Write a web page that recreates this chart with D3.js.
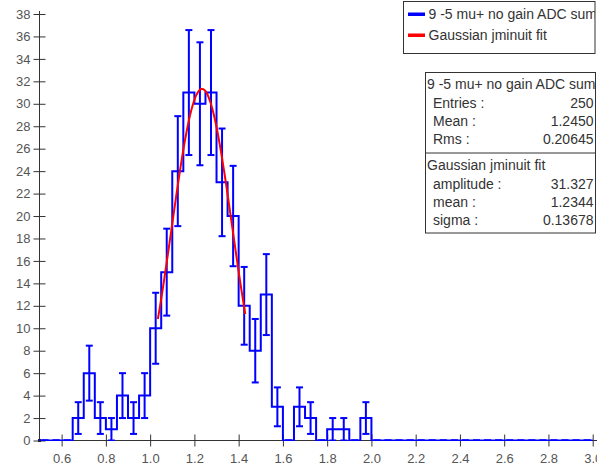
<!DOCTYPE html>
<html lang="en">
<head>
<meta charset="UTF-8">
<script src="https://d3js.org/d3.v7.min.js"></script>
<title>ADC sum histogram</title>
<style>
  body { margin: 0; background: #fff; }
  svg text { font-family: "Liberation Sans", Arial, sans-serif; }
  .axis .tick text { fill: #555; font-size: 13px; }
  .axis path, .axis line { stroke: #333; }
  .box text { font-size: 14px; fill: #333; }
</style>
</head>
<body>
<svg id="chart" width="597" height="465"></svg>
<script>
// histogram, 50 bins of 0.05 starting at 0.5
var binStart = 0.5;
var binWidth = 0.05;
var counts = [0, 0, 0, 2, 6, 2, 1, 4, 2, 4,
              10, 15, 24, 31, 30, 31, 23, 20, 12, 8,
              13, 3, 0, 3, 2, 0, 1, 1, 0, 2,
              0, 0, 0, 0, 0, 0, 0, 0, 0, 0,
              0, 0, 0, 0, 0, 0, 0, 0, 0, 0];

var xTicks = [0.6, 0.8, 1.0, 1.2, 1.4, 1.6, 1.8, 2.0, 2.2, 2.4, 2.6, 2.8, 3.0];
var yTicks = [0, 2, 4, 6, 8, 10, 12, 14, 16, 18, 20, 22, 24, 26, 28, 30, 32, 34, 36, 38];

// gaussian fit (values from the stats box)
var fitAmplitude = 31.327;
var fitMean = 1.2344;
var fitSigma = 0.13678;
var fitRange = [1.035, 1.43];

var histName = "9 -5 mu+ no gain ADC sum";
var fitName = "Gaussian jminuit fit";
var histStats = [["Entries :", "250"], ["Mean :", "1.2450"], ["Rms :", "0.20645"]];
var fitStats = [["amplitude :", "31.327"], ["mean :", "1.2344"], ["sigma :", "0.13678"]];

var blue = "#0000ff", red = "#ff0000";

var svg = d3.select("#chart");

var x = d3.scaleLinear().domain([0.5, 3.0]).range([39.5, 592.7]);
var y = d3.scaleLinear().domain([0, 38]).range([440.5, 14]);

// axes
var xAxis = svg.append("g")
    .attr("class", "axis")
    .attr("transform", "translate(0," + y(0) + ")")
    .call(d3.axisBottom(x).tickValues(xTicks).tickFormat(d3.format(".1f"))
        .tickSizeInner(6).tickSizeOuter(0).tickPadding(7));
xAxis.select(".domain").attr("d", "M" + x(0.5) + ",0H597");
xAxis.selectAll(".tick line").attr("y1", -6).attr("y2", 6);
xAxis.selectAll(".tick text").attr("dy", "0.71em");

var yAxis = svg.append("g")
    .attr("class", "axis")
    .attr("transform", "translate(" + x(0.5) + ",0)")
    .call(d3.axisLeft(y).tickValues(yTicks)
        .tickSizeInner(6).tickSizeOuter(0).tickPadding(3));
yAxis.select(".domain").attr("d", "M0," + (y(38) - 3) + "V" + y(0));
yAxis.selectAll(".tick line").attr("x1", 6).attr("x2", -6);
svg.selectAll(".axis").attr("font-size", null).attr("font-family", null);

svg.append("rect")
    .attr("x", x(0.5) - 1.5).attr("y", y(0) - 1.5)
    .attr("width", 3).attr("height", 3)
    .attr("fill", "#223");

// clip so the zero line only shows its top half over the axis
svg.append("clipPath").attr("id", "plotclip")
  .append("rect").attr("x", 0).attr("y", 0).attr("width", 597).attr("height", y(0) + 0.5);

var plot = svg.append("g").attr("clip-path", "url(#plotclip)");

// step outline
var steps = [[binStart, 0]];
counts.forEach(function(c, i) {
    var lo = binStart + i * binWidth;
    steps.push([lo, c]);
    steps.push([lo + binWidth, c]);
});
steps.push([binStart + counts.length * binWidth, 0]);

plot.append("path")
    .datum(steps)
    .attr("fill", "none")
    .attr("stroke", blue)
    .attr("stroke-width", 2)
    .attr("d", d3.line().x(d => x(d[0])).y(d => y(d[1])));

// error bars
var bins = counts.map(function(c, i) {
    return { mid: binStart + (i + 0.5) * binWidth, n: c, err: Math.sqrt(c) };
});

var eb = plot.append("g")
    .attr("stroke", blue)
    .attr("stroke-width", 2)
    .selectAll("g")
    .data(bins)
    .join("g");

eb.append("line")
    .attr("x1", d => x(d.mid)).attr("x2", d => x(d.mid))
    .attr("y1", d => y(d.n - d.err)).attr("y2", d => y(d.n + d.err));
eb.append("line")
    .attr("x1", d => x(d.mid) - 3.5).attr("x2", d => x(d.mid) + 3.5)
    .attr("y1", d => y(d.n + d.err)).attr("y2", d => y(d.n + d.err));
eb.append("line")
    .attr("x1", d => x(d.mid) - 3.5).attr("x2", d => x(d.mid) + 3.5)
    .attr("y1", d => y(d.n - d.err)).attr("y2", d => y(d.n - d.err));

// fitted gaussian
var fitX = d3.range(fitRange[0], fitRange[1], 0.005).concat([fitRange[1]]);
var gauss = function(v) {
    var z = (v - fitMean) / fitSigma;
    return fitAmplitude * Math.exp(-0.5 * z * z);
};
svg.append("path")
    .datum(fitX)
    .attr("fill", "none")
    .attr("stroke", red)
    .attr("stroke-width", 2)
    .attr("d", d3.line().x(d => x(d)).y(d => y(gauss(d))));

// legend
var legend = svg.append("g").attr("class", "box");
legend.append("clipPath").attr("id", "legclip")
  .append("rect").attr("x", 403.5).attr("y", 1.5).attr("width", 191.5).attr("height", 52);
legend.append("rect")
    .attr("x", 403.5).attr("y", 1.5).attr("width", 191.5).attr("height", 52)
    .attr("fill", "#fff").attr("stroke", "#333").attr("stroke-width", 1);
var legRows = legend.append("g")
    .attr("clip-path", "url(#legclip)")
    .selectAll("g.row")
    .data([[histName, blue], [fitName, red]])
    .join("g")
    .attr("class", "row")
    .attr("transform", (d, i) => "translate(0," + (14 + i * 21) + ")");
legRows.append("rect")
    .attr("x", 408).attr("y", -1.5).attr("width", 17).attr("height", 3.5)
    .attr("fill", d => d[1]);
legRows.append("text")
    .attr("x", 428.5).attr("y", 5)
    .text(d => d[0]);

// stats box
var rowH = 18;
var stats = svg.append("g").attr("class", "box");
stats.append("rect")
    .attr("x", 425.5).attr("y", 72.5).attr("width", 170).attr("height", 160.5)
    .attr("fill", "#fff").attr("stroke", "#333").attr("stroke-width", 1);
stats.append("line")
    .attr("x1", 425.5).attr("x2", 595.5).attr("y1", 153).attr("y2", 153)
    .attr("stroke", "#333");

function statBlock(title, rows, top) {
    stats.append("text").attr("x", 427).attr("y", top).text(title);
    var r = stats.selectAll(null).data(rows).enter();
    r.append("text")
        .attr("x", 433).attr("y", (d, i) => top + 0.5 + rowH * (i + 1))
        .text(d => d[0]);
    r.append("text")
        .attr("x", 593.5).attr("y", (d, i) => top + 0.5 + rowH * (i + 1))
        .attr("text-anchor", "end")
        .text(d => d[1]);
}
statBlock(histName, histStats, 89);
statBlock(fitName, fitStats, 170);
</script>
</body>
</html>
